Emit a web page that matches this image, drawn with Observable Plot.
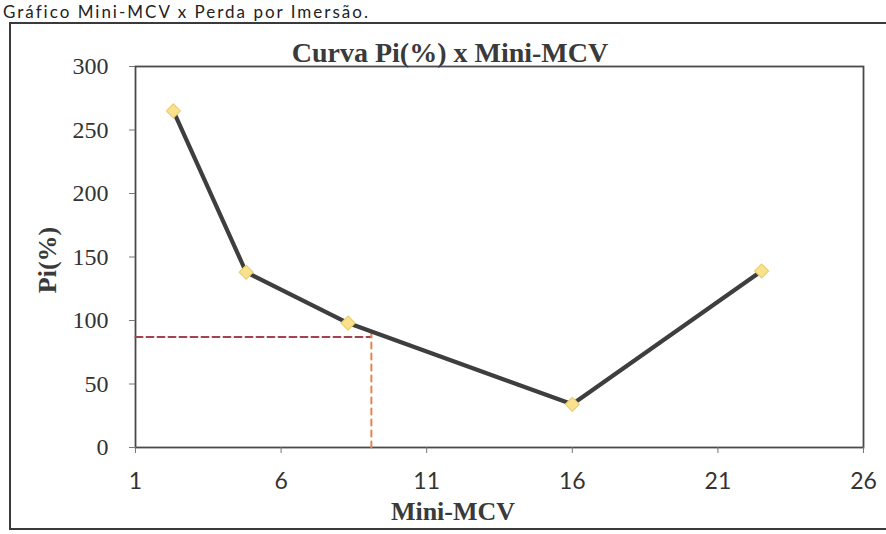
<!DOCTYPE html>
<html>
<head>
<meta charset="utf-8">
<script src="https://cdn.jsdelivr.net/npm/d3@7"></script>
<script src="https://cdn.jsdelivr.net/npm/@observablehq/plot@0.6"></script>
<style>
  html, body { margin: 0; padding: 0; background: #fff; }
  #wrap { position: relative; width: 886px; height: 534px; overflow: hidden; background: #fff; }
  #box { position: absolute; left: 9px; top: 22px; width: 900px; height: 508px; border: 2px solid #3a3a3a; box-sizing: border-box; }
  #chart, #overlay { position: absolute; left: 0; top: 0; }
  g[aria-label="y-axis tick label"] text { font-family: "Liberation Serif", "DejaVu Serif", serif; font-size: 24px; fill: #333; }
  g[aria-label="x-axis tick label"] text { font-family: "Lato", "Open Sans", sans-serif; font-size: 23px; fill: #333; }
</style>
</head>
<body>
<div id="wrap">
  <div id="box"></div>
  <div id="chart"></div>
  <svg id="overlay" width="886" height="534"></svg>
</div>
<script>
// Data
const miniMCV = [2.3, 4.8, 8.3, 16.0, 22.5];
const pi = [265, 138, 98, 34, 139];
const xTicks = [1, 6, 11, 16, 21, 26];
const yTicks = [0, 50, 100, 150, 200, 250, 300];
// reference (dashed) reading lines
const refX = [1, 9.1];
const refY = [87, 87];
const refVX = [9.1, 9.1];
const refVY = [0, 92];

const pageTitle = "Gráfico Mini-MCV x Perda por Imersão.";
const chartTitle = "Curva Pi(%) x Mini-MCV";
const xLabel = "Mini-MCV";
const yLabel = "Pi(%)";

const data = miniMCV.map((x, i) => ({x, y: pi[i]}));
const hLine = refX.map((x, i) => ({x, y: refY[i]}));
const vLine = refVX.map((x, i) => ({x, y: refVY[i]}));

const plot = Plot.plot({
  width: 886,
  height: 534,
  marginLeft: 135,
  marginRight: 23,
  marginTop: 66,
  marginBottom: 87,
  style: {background: "transparent", color: "#444", overflow: "visible"},
  x: {domain: [1, 26], ticks: xTicks},
  y: {domain: [0, 300], ticks: yTicks},
  marks: [
    Plot.frame({stroke: "#4a4a4a", strokeWidth: 1.8}),
    Plot.axisY({ticks: yTicks, tickSize: 6, tickPadding: 21, label: null, stroke: "#777"}),
    Plot.axisX({ticks: xTicks, tickSize: 6, tickPadding: 19, label: null, stroke: "#777"}),
    Plot.line(hLine, {x: "x", y: "y", stroke: "#a3434f", strokeWidth: 2, strokeDasharray: "7,4"}),
    Plot.line(vLine, {x: "x", y: "y", stroke: "#e8834f", strokeWidth: 2, strokeDasharray: "6,5"}),
    Plot.line(data, {x: "x", y: "y", stroke: "#3e3e3e", strokeWidth: 4.2}),
    Plot.dot(data, {x: "x", y: "y", symbol: "diamond2", r: 6.3, fill: "#f9e18e", stroke: "#ecd070", strokeWidth: 1.2})
  ]
});
document.getElementById("chart").appendChild(plot);

const ov = d3.select("#overlay");
ov.append("text")
  .attr("x", 3).attr("y", 18)
  .attr("font-family", "Lato, 'Open Sans', sans-serif")
  .attr("font-size", 17).attr("letter-spacing", 2).attr("fill", "#222")
  .text(pageTitle);
ov.append("text")
  .attr("x", 450).attr("y", 62).attr("text-anchor", "middle")
  .attr("font-family", "'Liberation Serif', serif").attr("font-weight", "bold")
  .attr("font-size", 28).attr("fill", "#3a3a3a")
  .text(chartTitle);
ov.append("text")
  .attr("x", 453).attr("y", 520).attr("text-anchor", "middle")
  .attr("font-family", "'Liberation Serif', serif").attr("font-weight", "bold")
  .attr("font-size", 26).attr("fill", "#3a3a3a")
  .text(xLabel);
ov.append("text")
  .attr("transform", "translate(56,260) rotate(-90)").attr("text-anchor", "middle")
  .attr("font-family", "'Liberation Serif', serif").attr("font-weight", "bold")
  .attr("font-size", 26).attr("fill", "#3a3a3a")
  .text(yLabel);
</script>
</body>
</html>
